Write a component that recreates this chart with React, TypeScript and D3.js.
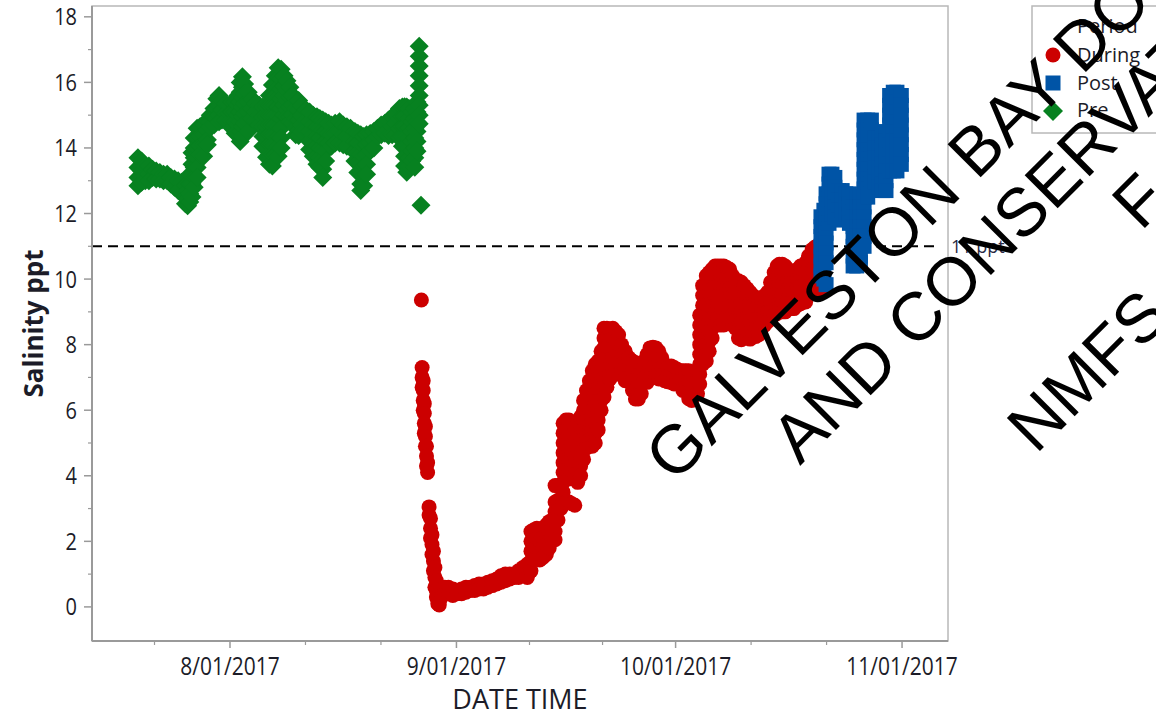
import React from "react";
import * as d3 from "d3";

// ---------- data (day offsets from 2017-08-01 00:00 UTC, then salinity readings in ppt) ----------
const preRows: number[][] = [
  [-12.6, 13.7, 13.4, 13.1, 12.85],
  [-12.1, 13.6, 13.3, 12.95],
  [-11.6, 13.45, 13.15, 13.0],
  [-11.1, 13.45, 13.2, 13.0],
  [-10.6, 13.35, 13.1],
  [-10.1, 13.3, 13.05],
  [-9.6, 13.25, 13.05],
  [-9.1, 13.2, 13.0],
  [-8.6, 13.2, 13.0],
  [-8.1, 13.1, 12.9],
  [-7.6, 13.05, 12.8],
  [-7.1, 13.0, 12.7],
  [-6.6, 12.95, 12.6],
  [-6.1, 12.85, 12.5, 12.3],
  [-5.8, 12.7, 12.45, 12.24],
  [-5.5, 13.2, 12.9, 12.6, 12.35],
  [-5.2, 13.85, 13.5, 13.2, 12.9, 12.5],
  [-4.9, 14.3, 14.0, 13.7, 13.4, 13.1, 12.8],
  [-4.5, 14.6, 14.3, 14.0, 13.7, 13.4, 13.1],
  [-4.1, 14.65, 14.35, 14.05, 13.8],
  [-3.6, 14.7, 14.4, 14.1, 13.75],
  [-3.1, 14.85, 14.55, 14.25, 14.1],
  [-2.7, 15.0, 14.8, 14.64],
  [-2.2, 15.2, 14.95, 14.7],
  [-1.8, 15.5, 15.2, 14.9],
  [-1.5, 15.6, 15.3, 15.0, 14.8],
  [-1.1, 15.45, 15.15, 14.85],
  [-0.6, 15.35, 15.05, 14.84],
  [-0.1, 15.3, 15.05, 14.8],
  [0.3, 15.4, 15.1, 14.8, 14.6],
  [0.7, 15.4, 15.1, 14.8, 14.45],
  [1.1, 15.6, 15.3, 15.0, 14.7],
  [1.4, 16.0, 15.7, 15.4, 15.1, 14.8, 14.5, 14.2],
  [1.7, 16.17, 15.85, 15.55, 15.25, 14.95, 14.65, 14.35],
  [2.0, 15.95, 15.65, 15.35, 15.05, 14.75],
  [2.5, 15.7, 15.4, 15.1, 14.8, 14.5],
  [3.0, 15.5, 15.2, 14.9],
  [3.5, 15.36, 15.1, 14.84],
  [4.0, 15.3, 15.0, 14.7],
  [4.5, 15.25, 14.95, 14.65, 14.35, 14.05],
  [5.0, 15.26, 14.95, 14.65, 14.35, 14.0, 13.72],
  [5.4, 15.6, 15.3, 15.0, 14.7, 14.4, 14.1, 13.8, 13.5],
  [5.8, 15.92, 15.6, 15.3, 15.0, 14.7, 14.4, 14.1, 13.8, 13.45],
  [6.2, 16.2, 15.9, 15.6, 15.3, 15.0, 14.7, 14.4, 14.1, 13.8],
  [6.6, 16.45, 16.15, 15.85, 15.55, 15.25, 14.95, 14.65, 14.35, 14.05, 13.75],
  [7.0, 16.4, 16.1, 15.8, 15.5, 15.2, 14.9, 14.6, 14.3, 14.0],
  [7.4, 16.2, 15.9, 15.6, 15.3, 15.0],
  [7.8, 16.05, 15.75, 15.45, 15.15, 14.95],
  [8.2, 15.85, 15.55, 15.25, 14.95, 14.8],
  [8.6, 15.6, 15.3, 15.0, 14.75],
  [9.0, 15.5, 15.2, 14.9, 14.6, 14.4],
  [9.4, 15.45, 15.15, 14.85, 14.55, 14.38],
  [9.8, 15.3, 15.0, 14.7, 14.5],
  [10.4, 15.15, 14.85, 14.55],
  [10.9, 15.1, 14.8, 14.5, 14.2, 13.95],
  [11.4, 15.0, 14.7, 14.4, 14.1, 13.75],
  [11.9, 14.95, 14.65, 14.35, 14.05, 13.75, 13.5],
  [12.3, 14.9, 14.6, 14.3, 14.0, 13.7, 13.4],
  [12.7, 14.85, 14.55, 14.25, 13.95, 13.65, 13.35, 13.1],
  [13.1, 14.8, 14.5, 14.2, 13.9, 13.6],
  [13.5, 14.75, 14.45, 14.15],
  [13.9, 14.7, 14.4, 14.05],
  [14.4, 14.75, 14.45, 14.15],
  [15.0, 14.8, 14.5, 14.15],
  [15.5, 14.7, 14.4, 14.1],
  [16.0, 14.65, 14.35, 14.05],
  [16.5, 14.6, 14.3, 14.0],
  [17.1, 14.5, 14.2, 13.9, 13.6],
  [17.5, 14.45, 14.15, 13.85, 13.55, 13.25],
  [17.9, 14.4, 14.1, 13.8, 13.5, 13.2, 12.9, 12.7],
  [18.3, 14.35, 14.05, 13.75, 13.45, 13.15, 12.85],
  [18.7, 14.4, 14.1, 13.8, 13.5, 13.2],
  [19.2, 14.44, 14.15, 13.92],
  [19.7, 14.5, 14.25, 14.0],
  [20.2, 14.6, 14.35],
  [20.7, 14.7, 14.4],
  [21.2, 14.75, 14.45],
  [21.7, 14.85, 14.55, 14.38],
  [22.2, 14.95, 14.65, 14.4],
  [22.7, 15.05, 14.75, 14.4],
  [23.2, 15.2, 14.9, 14.6, 14.33],
  [23.6, 15.25, 14.95, 14.65, 14.35, 14.05],
  [23.9, 15.26, 14.95, 14.65, 14.35, 14.05, 13.75, 13.45],
  [24.2, 15.25, 14.95, 14.65, 14.35, 14.05, 13.75, 13.45, 13.26],
  [24.5, 15.2, 14.9, 14.6, 14.3, 14.0, 13.7, 13.45],
  [24.9, 15.1, 14.8, 14.5, 14.2, 13.9, 13.6],
  [25.3, 15.2, 14.9, 14.6, 14.3, 14.0, 13.7, 13.41],
  [25.6, 15.4, 15.1, 14.8, 14.5, 14.2, 13.9],
  [25.9, 17.1, 16.8, 16.5, 16.2, 15.9, 15.6, 15.3, 15.0, 14.74],
  [26.15, 12.25],
];

const duringRows: number[][] = [
  [26.2, 9.36],
  [26.3, 7.3, 7.0, 6.7],
  [26.45, 6.9, 6.6, 6.3, 6.0],
  [26.6, 6.2, 5.9, 5.6, 5.3],
  [26.75, 5.5, 5.2, 4.9],
  [26.9, 4.9, 4.6, 4.3],
  [27.05, 4.4, 4.1],
  [27.25, 3.05, 2.8],
  [27.45, 2.7, 2.4, 2.1],
  [27.65, 2.2, 1.9, 1.6],
  [27.85, 1.7, 1.4, 1.1],
  [28.05, 1.2, 0.9, 0.6],
  [28.25, 0.8, 0.5, 0.3],
  [28.45, 0.5, 0.25, 0.1],
  [28.65, 0.4, 0.15, 0.06],
  [28.95, 0.55, 0.3],
  [29.4, 0.6, 0.4],
  [29.9, 0.6, 0.4],
  [30.5, 0.55, 0.35],
  [31.1, 0.5, 0.4],
  [31.7, 0.55, 0.4],
  [32.3, 0.6, 0.45],
  [32.9, 0.6, 0.5],
  [33.5, 0.65, 0.5],
  [34.1, 0.7, 0.55],
  [34.7, 0.7, 0.55],
  [35.3, 0.75, 0.6],
  [35.9, 0.8, 0.65],
  [36.5, 0.85, 0.7],
  [37.1, 0.95, 0.75],
  [37.7, 1.0, 0.8],
  [38.3, 1.0, 0.85],
  [38.9, 1.0, 0.9],
  [39.5, 1.1, 0.9],
  [40.1, 1.2, 0.95],
  [40.7, 1.3, 1.0, 0.9],
  [41.2, 2.3, 2.0, 1.7, 1.4, 1.1],
  [41.6, 2.35, 2.05, 1.75, 1.45],
  [42.0, 2.4, 2.1, 1.8, 1.5],
  [42.4, 2.3, 2.0, 1.7, 1.43],
  [42.8, 2.4, 2.1, 1.8, 1.5],
  [43.3, 2.5, 2.2, 1.9, 1.6],
  [43.7, 2.6, 2.3, 2.0, 1.8],
  [44.1, 2.65, 2.35, 2.05],
  [44.5, 3.7, 3.2, 2.9, 2.6, 2.3, 2.05],
  [44.9, 3.7, 3.25, 2.95, 2.65],
  [45.3, 3.2, 3.0],
  [45.6, 5.6, 5.3, 5.0, 4.7, 4.4, 4.1, 3.8, 3.5, 3.2],
  [46.0, 5.7, 5.4, 5.1, 4.8, 4.5, 4.2, 3.2],
  [46.4, 5.7, 5.4, 5.1, 4.8, 4.5, 4.2, 3.9, 3.2],
  [46.8, 5.6, 5.3, 5.0, 4.7, 4.4, 4.1, 3.15],
  [47.2, 5.5, 5.2, 4.9, 4.6, 4.3, 4.0, 3.1],
  [47.6, 5.6, 5.3, 5.0, 4.7, 4.4, 4.1, 3.8],
  [48.0, 5.8, 5.5, 5.2, 4.9, 4.6, 4.3, 4.0],
  [48.4, 6.3, 6.0, 5.7, 5.4, 5.1, 4.8, 4.5],
  [48.8, 6.6, 6.3, 6.0, 5.7, 5.4, 5.1, 4.85],
  [49.2, 6.9, 6.6, 6.3, 6.0, 5.7, 5.4, 5.1],
  [49.6, 7.2, 6.9, 6.6, 6.3, 6.0, 5.7, 5.4, 5.1, 4.9],
  [50.0, 7.4, 7.1, 6.8, 6.5, 6.2, 5.9, 5.6, 5.3, 5.0],
  [50.4, 7.5, 7.2, 6.9, 6.6, 6.3, 6.0, 5.7, 5.4],
  [50.8, 7.8, 7.5, 7.2, 6.9, 6.6, 6.3, 6.0],
  [51.2, 8.5, 8.2, 7.9, 7.6, 7.3, 7.0, 6.7, 6.4],
  [51.6, 8.5, 8.2, 7.9, 7.6, 7.3, 7.0, 6.7],
  [52.0, 8.45, 8.15, 7.85, 7.55, 7.25, 6.95],
  [52.4, 8.5, 8.2, 7.9, 7.6, 7.3],
  [52.8, 8.4, 8.1, 7.8, 7.5, 7.2],
  [53.2, 8.3, 8.0, 7.7, 7.4, 7.1],
  [53.6, 8.0, 7.7, 7.4, 7.1],
  [54.1, 7.8, 7.5, 7.2, 6.9],
  [54.6, 7.6, 7.3, 7.0],
  [55.1, 7.5, 7.2, 6.9, 6.6],
  [55.5, 7.45, 7.15, 6.85, 6.55, 6.34],
  [55.9, 7.4, 7.1, 6.8, 6.5, 6.34],
  [56.3, 7.4, 7.1, 6.8, 6.5],
  [56.7, 7.5, 7.2, 6.9],
  [57.1, 7.7, 7.4, 7.1, 6.85],
  [57.5, 7.9, 7.6, 7.3, 7.0],
  [57.9, 7.92, 7.6, 7.3, 7.0],
  [58.3, 7.9, 7.6, 7.3, 7.05],
  [58.7, 7.8, 7.5, 7.2, 6.95],
  [59.1, 7.6, 7.3, 7.0],
  [59.5, 7.4, 7.1, 6.9],
  [59.9, 7.3, 7.0, 6.87],
  [60.4, 7.35, 7.05, 6.85],
  [60.8, 7.3, 7.0, 6.8],
  [61.2, 7.25, 6.95],
  [61.6, 7.2, 6.9],
  [62.0, 7.2, 6.9, 6.6],
  [62.4, 7.2, 6.9, 6.6],
  [62.8, 7.2, 6.9, 6.6, 6.35],
  [63.2, 7.1, 6.8, 6.5, 6.3],
  [63.6, 7.0, 6.7, 6.45],
  [64.0, 7.1, 6.8, 6.5],
  [64.3, 8.9, 8.6, 8.3, 8.0, 7.7, 7.4, 7.1, 6.8],
  [64.7, 9.8, 9.5, 9.2, 8.9, 8.6, 8.3, 8.0, 7.7, 7.4],
  [65.2, 10.1, 9.8, 9.5, 9.2, 8.9, 8.6, 8.3, 8.0, 7.7, 7.5],
  [65.6, 10.2, 9.9, 9.6, 9.3, 9.0, 8.7, 8.4, 8.1, 7.8],
  [66.0, 10.3, 10.0, 9.7, 9.4, 9.1, 8.8, 8.5, 8.2],
  [66.4, 10.4, 10.1, 9.8, 9.5, 9.2, 8.9, 8.6],
  [66.8, 10.4, 10.1, 9.8, 9.5, 9.2, 8.9, 8.6],
  [67.2, 10.4, 10.1, 9.8, 9.5, 8.9, 8.6],
  [67.6, 10.4, 10.1, 9.8, 9.2, 8.9, 8.6],
  [68.0, 10.35, 10.05, 9.75, 9.45, 9.15, 8.85],
  [68.4, 10.3, 10.0, 9.7, 9.4, 9.1, 8.8],
  [68.8, 10.1, 9.8, 9.5, 9.2, 8.9, 8.6],
  [69.2, 9.95, 9.65, 9.35, 9.05, 8.75, 8.5],
  [69.6, 9.95, 9.65, 9.35, 9.05, 8.75, 8.45, 8.2],
  [70.0, 9.9, 9.6, 9.3, 9.0, 8.7, 8.4, 8.15],
  [70.4, 9.8, 9.5, 9.2, 8.9, 8.6, 8.3],
  [70.8, 9.7, 9.4, 9.1, 8.8, 8.5, 8.2],
  [71.2, 9.6, 9.3, 9.0, 8.7, 8.4, 8.17],
  [71.6, 9.5, 9.2, 8.9, 8.6, 8.3],
  [72.0, 9.4, 9.1, 8.8, 8.5, 8.25],
  [72.4, 9.4, 9.1, 8.8, 8.5, 8.3],
  [72.8, 9.4, 9.1, 8.8, 8.5],
  [73.2, 9.5, 9.2, 8.9, 8.6],
  [73.6, 9.6, 9.3, 9.0, 8.7],
  [74.0, 9.9, 9.6, 9.3, 9.0, 8.8],
  [74.5, 10.2, 9.9, 9.6, 9.3, 9.0, 8.9],
  [74.9, 10.4, 10.1, 9.8, 9.5, 9.2, 8.95],
  [75.2, 10.45, 10.15, 9.85, 9.55, 9.25, 9.0],
  [75.6, 10.45, 10.15, 9.85, 9.55, 9.25, 9.0],
  [76.0, 10.4, 10.1, 9.8, 9.5, 9.2, 9.0],
  [76.4, 10.3, 10.0, 9.7, 9.4, 9.1],
  [76.8, 10.2, 9.9, 9.6, 9.3, 9.1],
  [77.2, 10.2, 9.9, 9.6, 9.3, 9.1],
  [77.7, 10.3, 10.0, 9.7, 9.4, 9.2],
  [78.1, 10.4, 10.1, 9.8, 9.5, 9.25],
  [78.5, 10.4, 10.1, 9.8, 9.5, 9.3],
  [78.8, 10.5, 10.2, 9.9, 9.6, 9.3],
  [79.2, 10.7, 10.4, 10.1, 9.8, 9.5],
  [79.7, 10.9, 10.6, 10.3, 10.0, 9.7],
  [80.1, 10.98, 10.7, 10.4, 10.1, 9.8],
  [80.5, 10.6, 10.3, 10.0, 9.7],
  [80.9, 10.0, 9.7],
];

const postRows: number[][] = [
  [80.9, 11.9, 11.6, 11.3, 11.0, 10.7, 10.4, 10.1],
  [81.3, 12.1, 11.8, 11.5, 11.2, 10.9, 10.6, 10.3, 10.0],
  [81.6, 12.6, 12.3, 12.0, 11.7, 11.4, 11.1, 10.8, 10.5, 9.83],
  [82.0, 13.2, 12.9, 12.6, 12.3, 12.0, 11.7],
  [82.4, 13.2, 12.9, 12.6, 12.3, 12.0],
  [82.8, 13.1, 12.8, 12.5, 12.2, 11.9],
  [83.3, 12.7, 12.4, 12.1, 11.8],
  [83.8, 12.7, 12.4, 12.1],
  [84.3, 12.6, 12.3, 12.0],
  [84.8, 12.6, 12.3, 12.0, 11.7],
  [85.3, 12.5, 12.2, 11.9, 11.6, 11.3, 11.0, 10.7, 10.4],
  [85.8, 12.5, 12.2, 11.9, 11.6, 11.3, 11.0, 10.7, 10.4],
  [86.3, 12.5, 12.2, 11.9, 11.6, 11.3, 11.0, 10.7, 10.5],
  [86.8, 14.85, 14.55, 14.25, 13.95, 13.65, 13.35, 13.05, 12.75, 12.5, 12.2, 11.9, 11.6, 11.3, 11.0],
  [87.3, 14.85, 14.55, 14.25, 13.95, 13.65, 13.35, 13.05, 12.75, 12.5],
  [87.8, 14.85, 14.55, 14.25, 13.95, 13.65, 13.35, 13.05],
  [88.3, 14.3, 14.0, 13.7, 13.4, 13.1, 12.96],
  [88.8, 14.3, 14.0, 13.7, 13.4, 13.1, 12.8],
  [89.3, 14.4, 14.1, 13.8, 13.5, 13.2, 12.9, 12.7],
  [89.8, 14.5, 14.2, 13.9, 13.6, 13.3, 13.0, 12.7],
  [90.3, 15.6, 15.3, 15.0, 14.7, 14.4, 14.1, 13.8, 13.5, 13.3],
  [90.8, 15.7, 15.4, 15.1, 14.8, 14.5, 14.2, 13.9, 13.6, 13.3],
  [91.3, 15.7, 15.4, 15.1, 14.8, 14.5, 14.2, 13.9, 13.6, 13.3],
  [91.9, 15.6, 15.3, 15.0, 14.7, 14.4, 14.1, 13.8, 13.5],
];

const yTicks = [0, 2, 4, 6, 8, 10, 12, 14, 16, 18];
const yMinorTicks = [1, 3, 5, 7, 9, 11, 13, 15, 17];
const monthStarts = ["2017-07-01", "2017-08-01", "2017-09-01", "2017-10-01", "2017-11-01", "2017-12-01"];
const xTickDates = ["2017-08-01", "2017-09-01", "2017-10-01", "2017-11-01"];
const xTickLabels = ["8/01/2017", "9/01/2017", "10/01/2017", "11/01/2017"];
const thresholdValue = 11;
const thresholdLabel = "11 ppt";
const legendTitle = "Period";
const legendItems = ["During", "Post", "Pre"];
const watermarkLines = [
  "GALVESTON BAY DOLPHIN RESEARCH",
  "AND CONSERVATION PROGRAM",
  "F",
  "NMFS",
];

// ---------- layout ----------
const W = 1156;
const H = 717;
const PL = 92, PR = 948, PT = 6, PB = 641;
const DAY = 86400000;
const ORIGIN = Date.UTC(2017, 7, 1);
const xDomainDays = [-18.89, 98.29];
const yDomain = [-1.04, 18.33];

const COLORS: Record<string, string> = { During: "#cc0000", Post: "#0054a6", Pre: "#078120" };

const x = d3
  .scaleUtc()
  .domain([new Date(ORIGIN + xDomainDays[0] * DAY), new Date(ORIGIN + xDomainDays[1] * DAY)])
  .range([PL, PR]);
const y = d3.scaleLinear().domain(yDomain).range([PB, PT]);

const parse = (s: string) => new Date(s + "T00:00:00Z");

function toPoints(rows: number[][]) {
  const pts: { t: Date; v: number }[] = [];
  rows.forEach((r) => {
    const t = new Date(ORIGIN + r[0] * DAY);
    r.slice(1).forEach((v) => pts.push({ t, v }));
  });
  return pts;
}

const duringPts = toPoints(duringRows);
const postPts = toPoints(postRows);
const prePts = toPoints(preRows);

const minorX: Date[] = [];
for (let i = 0; i < monthStarts.length - 1; i++) {
  const a = parse(monthStarts[i]).getTime();
  const b = parse(monthStarts[i + 1]).getTime();
  [1, 2].forEach((k) => {
    const t = new Date(a + ((b - a) * k) / 3);
    const px = x(t);
    if (px > PL + 1 && px < PR - 1) minorX.push(t);
  });
}

const FONT = "'Open Sans', 'Noto Sans', sans-serif";
const TXT = "#1c1c28";
const AX = "#9a9a9a";

const diamond = (cx: number, cy: number, h: number) =>
  `M${cx},${cy - h}L${cx + h},${cy}L${cx},${cy + h}L${cx - h},${cy}Z`;

export default function App() {
  const wmX0 = [674, 800, 1141, 1036];
  const wmY0 = [484, 466, 232, 455];
  return (
    <svg
      width={W}
      height={H}
      viewBox={`0 0 ${W} ${H}`}
      style={{ position: "absolute", left: 0, top: 0, background: "#fff" }}
    >
      <rect x={0} y={0} width={W} height={H} fill="#fff" />
      {/* plot frame */}
      <rect x={PL} y={PT} width={PR - PL} height={PB - PT} fill="#fff" stroke="#b8b8b8" strokeWidth={1.5} />
      {/* threshold */}
      <line
        x1={PL}
        x2={PR - 8}
        y1={y(thresholdValue)}
        y2={y(thresholdValue)}
        stroke="#000"
        strokeWidth={2}
        strokeDasharray="10,6"
      />
      <text x={951} y={y(thresholdValue) + 7} fontFamily={FONT} fontSize={18} fill="#2a2a44">
        {thresholdLabel}
      </text>

      {/* points */}
      <g>
        {duringPts.map((p, i) => (
          <circle key={"d" + i} cx={x(p.t)} cy={y(p.v)} r={7.5} fill={COLORS.During} />
        ))}
      </g>
      <g>
        {postPts.map((p, i) => (
          <rect key={"p" + i} x={x(p.t) - 7.5} y={y(p.v) - 7.5} width={15} height={15} fill={COLORS.Post} />
        ))}
      </g>
      <g>
        {prePts.map((p, i) => (
          <path key={"r" + i} d={diamond(x(p.t), y(p.v), 9.5)} fill={COLORS.Pre} />
        ))}
      </g>

      {/* y axis */}
      <line x1={PL} x2={PL} y1={PT} y2={PB} stroke={AX} strokeWidth={2} />
      {yTicks.map((t) => (
        <g key={"yt" + t}>
          <line x1={PL - 8} x2={PL} y1={y(t)} y2={y(t)} stroke={AX} strokeWidth={1.5} />
          <text
            transform={`translate(77,${y(t)}) scale(1,1.18)`}
            textAnchor="end"
            dy="0.36em"
            fontFamily={FONT}
            fontSize={20}
            fill={TXT}
          >
            {t}
          </text>
        </g>
      ))}
      {yMinorTicks.map((t) => (
        <line key={"ym" + t} x1={PL - 4} x2={PL} y1={y(t)} y2={y(t)} stroke={AX} strokeWidth={1.2} />
      ))}
      <text
        transform={`translate(43,${(PT + PB) / 2}) rotate(-90)`}
        textAnchor="middle"
        fontFamily={FONT}
        fontWeight={700}
        fontSize={26}
        fill={TXT}
      >
        Salinity ppt
      </text>

      {/* x axis */}
      <line x1={PL} x2={PR} y1={PB} y2={PB} stroke={AX} strokeWidth={2} />
      {xTickDates.map((s, i) => {
        const px = x(parse(s));
        return (
          <g key={"xt" + s}>
            <line x1={px} x2={px} y1={PB} y2={PB + 7} stroke={AX} strokeWidth={1.5} />
            <text
              transform={`translate(${px},675) scale(1,1.2)`}
              textAnchor="middle"
              fontFamily={FONT}
              fontSize={21}
              fill={TXT}
            >
              {xTickLabels[i]}
            </text>
          </g>
        );
      })}
      {minorX.map((t, i) => (
        <line key={"xm" + i} x1={x(t)} x2={x(t)} y1={PB} y2={PB + 4} stroke={AX} strokeWidth={1.2} />
      ))}
      <text x={(PL + PR) / 2} y={709} textAnchor="middle" fontFamily={FONT} fontSize={27} fill={TXT}>
        DATE TIME
      </text>

      {/* legend */}
      <rect x={1032} y={6} width={200} height={127} fill="#fff" stroke="#b8b8b8" strokeWidth={1.5} />
      <text x={1077} y={33} fontFamily={FONT} fontSize={20} fill={TXT}>
        {legendTitle}
      </text>
      <circle cx={1053} cy={55} r={7.5} fill={COLORS.During} />
      <rect x={1045.5} y={75.5} width={15} height={15} fill={COLORS.Post} />
      <path d={diamond(1053, 111, 10)} fill={COLORS.Pre} />
      {legendItems.map((name, i) => (
        <text key={name} x={1077} y={62 + i * 27.5} fontFamily={FONT} fontSize={20} fill={TXT}>
          {name}
        </text>
      ))}

      {/* watermark */}
      <g fontFamily="'Liberation Sans', Arial, sans-serif" fontSize={68} fill="#000">
        {watermarkLines.map((line, i) => (
          <text key={"wm" + i} transform={`translate(${wmX0[i]},${wmY0[i]}) rotate(-45)`}>
            {line}
          </text>
        ))}
      </g>
    </svg>
  );
}
